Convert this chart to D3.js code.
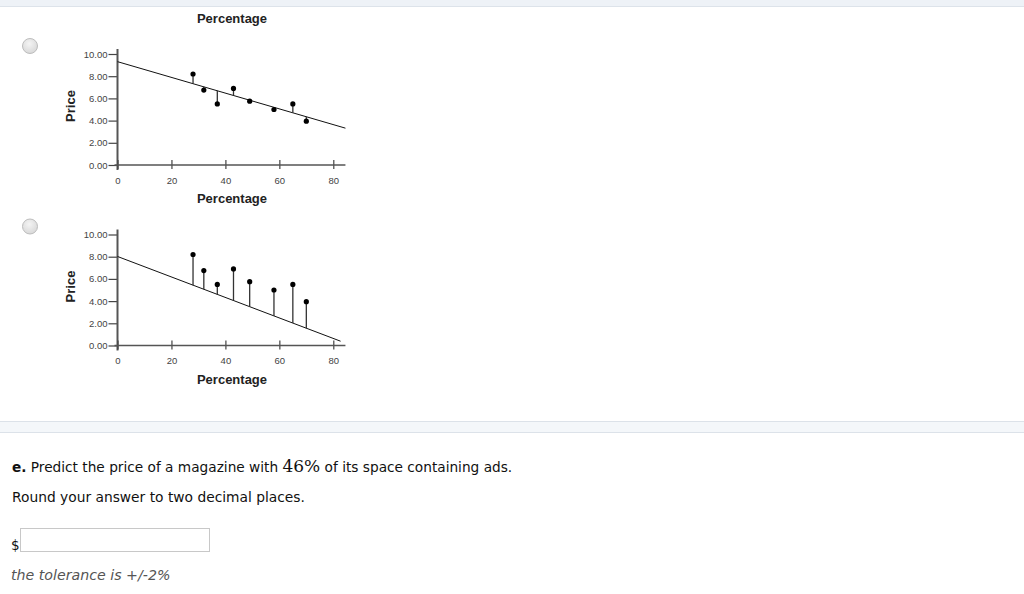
<!DOCTYPE html>
<html>
<head>
<meta charset="utf-8">
<script src="https://cdn.jsdelivr.net/npm/d3@7"></script>
<style>
  html, body { margin: 0; padding: 0; background: #fff; }
  svg { display: block; }
</style>
</head>
<body>
<svg id="c" width="1024" height="594"></svg>
<script>
// ---- data ----
const percentage = [28, 32, 37, 43, 49, 58, 65, 70];
const price = [8.2, 6.75, 5.5, 6.9, 5.75, 5.0, 5.5, 3.95];
const xTicks = [0, 20, 40, 60, 80];
const yTicks = [0, 2, 4, 6, 8, 10];
// fitted lines shown in the two options: [intercept, slope, last x]
const lineA = [9.31, -0.0709, 84.5];
const lineB = [8.02, -0.0923, 82.7];
const xLabel = "Percentage";
const yLabel = "Price";

const svg = d3.select("#c");
const chartFont = "'Liberation Sans', Arial, Helvetica, sans-serif";
const textFont = "'DejaVu Sans', Verdana, sans-serif";

// page decorations
svg.append("rect").attr("x", 0).attr("y", 0).attr("width", 1024).attr("height", 6).attr("fill", "#eef2f7");
svg.append("line").attr("x1", 0).attr("x2", 1024).attr("y1", 6.5).attr("y2", 6.5).attr("stroke", "#dde3ea");
svg.append("rect").attr("x", 0).attr("y", 421).attr("width", 1024).attr("height", 11).attr("fill", "#f4f7fa");
svg.append("line").attr("x1", 0).attr("x2", 1024).attr("y1", 421.5).attr("y2", 421.5).attr("stroke", "#dce2e9");
svg.append("line").attr("x1", 0).attr("x2", 1024).attr("y1", 432.5).attr("y2", 432.5).attr("stroke", "#dce2e9");

// top title
svg.append("text").attr("x", 232).attr("y", 23).attr("text-anchor", "middle")
  .attr("font-family", chartFont).attr("font-weight", "bold").attr("font-size", 13)
  .attr("fill", "#222").text(xLabel);

const defs = svg.append("defs");
const grad = defs.append("radialGradient").attr("id", "rg").attr("cx", "45%").attr("cy", "35%").attr("r", "70%");
grad.append("stop").attr("offset", "0%").attr("stop-color", "#f4f4f4");
grad.append("stop").attr("offset", "100%").attr("stop-color", "#d6d6d6");

function drawChart(offsetY, line) {
  const x = d3.scaleLinear().domain([0, 80]).range([117.5, 333.3]);
  const y = d3.scaleLinear().domain([0, 10]).range([165 + offsetY, 54 + offsetY]);
  const g = svg.append("g");

  // radio button
  g.append("circle").attr("cx", 30).attr("cy", 46 + offsetY).attr("r", 7.5)
    .attr("fill", "url(#rg)").attr("stroke", "#bdbdbd").attr("stroke-width", 1);

  // y axis
  const yAxis = d3.axisLeft(y).tickValues(yTicks).tickFormat(d3.format(".2f")).tickSize(9).tickPadding(1);
  const ya = g.append("g").attr("transform", `translate(${x(0)},0)`).call(yAxis);
  ya.select(".domain").remove();
  ya.selectAll(".tick line").attr("stroke", "#444").attr("stroke-width", 1.2);
  ya.selectAll(".tick text").attr("font-family", chartFont).attr("font-size", 9.5).attr("fill", "#444");
  g.append("line").attr("x1", x(0)).attr("x2", x(0)).attr("y1", y(10) - 5).attr("y2", y(0) + 5)
    .attr("stroke", "#555").attr("stroke-width", 2);

  // x axis
  const xAxis = d3.axisBottom(x).tickValues(xTicks).tickFormat(d3.format("d")).tickSize(4).tickPadding(8);
  const xa = g.append("g").attr("transform", `translate(0,${y(0)})`).call(xAxis);
  xa.select(".domain").remove();
  xa.selectAll(".tick line").attr("y1", -5).attr("stroke", "#444").attr("stroke-width", 1.2);
  xa.selectAll(".tick text").attr("font-family", chartFont).attr("font-size", 9.5).attr("fill", "#444");
  g.append("line").attr("x1", x(0) - 3).attr("x2", x(84.5)).attr("y1", y(0)).attr("y2", y(0))
    .attr("stroke", "#555").attr("stroke-width", 1.5);

  // labels
  g.append("text").attr("x", 232).attr("y", y(0) + 38).attr("text-anchor", "middle")
    .attr("font-family", chartFont).attr("font-weight", "bold").attr("font-size", 13)
    .attr("fill", "#222").text(xLabel);
  g.append("text").attr("transform", `translate(75,${106 + offsetY}) rotate(-90)`).attr("text-anchor", "middle")
    .attr("font-family", chartFont).attr("font-weight", "bold").attr("font-size", 13)
    .attr("fill", "#222").text(yLabel);

  // fitted line
  const [b0, b1, xEnd] = line;
  const fit = v => b0 + b1 * v;
  g.append("line").attr("x1", x(0)).attr("y1", y(fit(0))).attr("x2", x(xEnd)).attr("y2", y(fit(xEnd)))
    .attr("stroke", "#111").attr("stroke-width", 1);

  // residuals
  const pts = percentage.map((p, i) => ({ p, v: price[i] }));
  g.selectAll(".res").data(pts).enter().append("line")
    .attr("x1", d => x(d.p)).attr("x2", d => x(d.p))
    .attr("y1", d => y(d.v)).attr("y2", d => y(fit(d.p)))
    .attr("stroke", "#333").attr("stroke-width", 1.3);
  g.selectAll(".pt").data(pts).enter().append("circle")
    .attr("cx", d => x(d.p)).attr("cy", d => y(d.v)).attr("r", 2.6).attr("fill", "#000");
}

drawChart(0, lineA);
drawChart(180.5, lineB);

// question text
const q = svg.append("text").attr("x", 12).attr("y", 472).attr("font-family", textFont)
  .attr("font-size", 13.7).attr("fill", "#111");
q.append("tspan").attr("font-weight", "bold").text("e.");
q.append("tspan").text(" Predict the price of a magazine with ");
q.append("tspan").attr("font-family", "'DejaVu Serif', 'Liberation Serif', serif").attr("font-size", 17).text("46%");
q.append("tspan").text(" of its space containing ads.");

svg.append("text").attr("x", 12).attr("y", 502).attr("font-family", textFont)
  .attr("font-size", 13.8).attr("fill", "#111").text("Round your answer to two decimal places.");

svg.append("text").attr("x", 11).attr("y", 550).attr("font-family", textFont)
  .attr("font-size", 13.5).attr("fill", "#111").text("$");
svg.append("rect").attr("x", 20.5).attr("y", 528.5).attr("width", 189).attr("height", 23)
  .attr("fill", "#fff").attr("stroke", "#c8c8c8");

svg.append("text").attr("x", 11).attr("y", 580).attr("font-family", textFont).attr("font-style", "italic")
  .attr("font-size", 14.2).attr("fill", "#555").text("the tolerance is +/-2%");
</script>
</body>
</html>
